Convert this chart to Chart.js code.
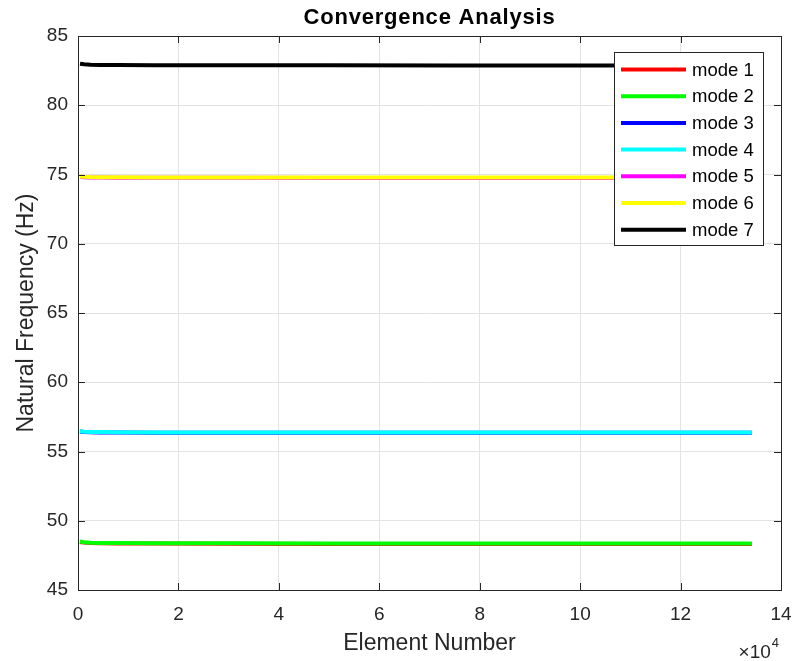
<!DOCTYPE html>
<html>
<head>
<meta charset="utf-8">
<script src="https://cdn.jsdelivr.net/npm/chart.js@4.4.0/dist/chart.umd.min.js"></script>
<style>
html, body { margin: 0; padding: 0; background: #fff; }
#wrap { width: 795px; height: 661px; }
</style>
</head>
<body>
<div id="wrap"><canvas id="convChart"></canvas></div>
<script>
// element counts of the meshes
const elements = [400, 1200, 2500, 4500, 8000, 15000, 30000, 50000, 75000, 100000, 120000, 134200];
// natural frequencies (Hz) per mode
const mode1 = [48.47, 48.42, 48.39, 48.37, 48.36, 48.35, 48.34, 48.33, 48.33, 48.32, 48.32, 48.32];
const mode2 = [48.50, 48.45, 48.42, 48.40, 48.39, 48.38, 48.37, 48.36, 48.36, 48.35, 48.35, 48.35];
const mode3 = [56.44, 56.41, 56.39, 56.38, 56.37, 56.36, 56.36, 56.35, 56.35, 56.35, 56.35, 56.35];
const mode4 = [56.46, 56.43, 56.41, 56.40, 56.39, 56.38, 56.38, 56.37, 56.37, 56.37, 56.37, 56.37];
const mode5 = [74.83, 74.81, 74.79, 74.78, 74.77, 74.76, 74.76, 74.75, 74.75, 74.75, 74.75, 74.75];
const mode6 = [74.86, 74.84, 74.82, 74.81, 74.80, 74.79, 74.79, 74.78, 74.78, 74.78, 74.78, 74.78];
const mode7 = [83.00, 82.96, 82.93, 82.91, 82.90, 82.89, 82.88, 82.88, 82.87, 82.87, 82.87, 82.87];
const modeNames = ['mode 1', 'mode 2', 'mode 3', 'mode 4', 'mode 5', 'mode 6', 'mode 7'];
const modeColors = ['#ff0000', '#00ff00', '#0000ff', '#00ffff', '#ff00ff', '#ffff00', '#000000'];
const xTicks = [0, 2, 4, 6, 8, 10, 12, 14];     // x 10^4
const yTicks = [45, 50, 55, 60, 65, 70, 75, 80, 85];

const modes = [mode1, mode2, mode3, mode4, mode5, mode6, mode7];
const FONT = '"Liberation Sans", Arial, sans-serif';
const INK = '#262626';

// matlab style box with inward ticks on all four sides, title centred on axes, legend inside
const boxPlugin = {
    id: 'box',
    afterDatasetsDraw(chart) {
        const { ctx, chartArea: a, scales: { x, y } } = chart;
        ctx.save();
        ctx.strokeStyle = INK;
        ctx.lineWidth = 1;
        ctx.strokeRect(a.left + 0.5, a.top + 0.5, a.right - a.left, a.bottom - a.top);
        ctx.beginPath();
        xTicks.forEach(t => {
            const px = Math.round(x.getPixelForValue(t * 1e4)) + 0.5;
            ctx.moveTo(px, a.bottom); ctx.lineTo(px, a.bottom - 7);
            ctx.moveTo(px, a.top); ctx.lineTo(px, a.top + 7);
        });
        yTicks.forEach(t => {
            const py = Math.round(y.getPixelForValue(t)) + 0.5;
            ctx.moveTo(a.left, py); ctx.lineTo(a.left + 7, py);
            ctx.moveTo(a.right, py); ctx.lineTo(a.right - 7, py);
        });
        ctx.stroke();
        // exponent label
        ctx.fillStyle = INK;
        ctx.textBaseline = 'alphabetic';
        ctx.textAlign = 'right';
        ctx.font = '13px ' + FONT;
        ctx.fillText('4', a.right - 2, 647);
        const w4 = ctx.measureText('4').width;
        ctx.font = '19px ' + FONT;
        ctx.fillText('\u00d710', a.right - 3 - w4, 658);
        // title
        ctx.fillStyle = '#000';
        ctx.textAlign = 'center';
        ctx.textBaseline = 'middle';
        ctx.font = 'bold 22px ' + FONT;
        ctx.letterSpacing = '0.8px';
        ctx.fillText('Convergence Analysis', (a.left + a.right) / 2, 18);
        ctx.restore();
    },
    afterDraw(chart) {
        const { ctx, chartArea: a } = chart;
        const left = a.right - 167, top = a.top + 16, w = 149, h = 193;
        ctx.save();
        ctx.fillStyle = '#fff';
        ctx.fillRect(left, top, w, h);
        ctx.strokeStyle = INK;
        ctx.lineWidth = 1;
        ctx.strokeRect(left + 0.5, top + 0.5, w, h);
        ctx.font = '18.5px ' + FONT;
        ctx.textBaseline = 'middle';
        ctx.textAlign = 'left';
        chart.data.datasets.forEach((ds, i) => {
            const cy = top + 17.5 + i * 26.7;
            ctx.strokeStyle = ds.borderColor;
            ctx.lineWidth = 4;
            ctx.beginPath();
            ctx.moveTo(left + 7, cy); ctx.lineTo(left + 72, cy);
            ctx.stroke();
            ctx.fillStyle = '#000';
            ctx.fillText(ds.label, left + 78, cy + 1);
        });
        ctx.restore();
    }
};

new Chart(document.getElementById('convChart').getContext('2d'), {
    type: 'line',
    data: {
        datasets: modes.map((m, i) => ({
            label: modeNames[i],
            data: elements.map((e, j) => ({ x: e, y: m[j] })),
            borderColor: modeColors[i],
            backgroundColor: modeColors[i],
            borderWidth: 4,
            pointRadius: 0,
            tension: 0,
            fill: false,
            order: modes.length - i
        }))
    },
    options: {
        responsive: true,
        maintainAspectRatio: false,
        animation: false,
        layout: { padding: { top: 36, right: 14, bottom: 0, left: 0 } },
        plugins: {
            legend: { display: false },
            tooltip: { enabled: false },
            title: { display: false }
        },
        scales: {
            x: {
                type: 'linear',
                min: 0, max: 140000,
                afterBuildTicks: s => { s.ticks = xTicks.map(v => ({ value: v * 1e4 })); },
                afterFit: s => { s.height = 71; s.paddingLeft = 0; s.paddingRight = 0; },
                ticks: {
                    callback: v => String(v / 1e4),
                    color: INK, padding: 13,
                    font: { family: FONT, size: 19 },
                    maxRotation: 0
                },
                grid: { color: '#e3e3e3', drawTicks: false },
                border: { display: false },
                title: {
                    display: true, text: 'Element Number', color: INK,
                    font: { family: FONT, size: 23 },
                    padding: { top: 0, bottom: 4 }
                }
            },
            y: {
                min: 45, max: 85,
                afterBuildTicks: s => { s.ticks = yTicks.map(v => ({ value: v })); },
                afterFit: s => { s.width = 78; s.paddingTop = 0; s.paddingBottom = 0; },
                ticks: {
                    color: INK, padding: 10,
                    font: { family: FONT, size: 19 }
                },
                grid: { color: '#e3e3e3', drawTicks: false },
                border: { display: false },
                title: {
                    display: true, text: 'Natural Frequency (Hz)', color: INK,
                    font: { family: FONT, size: 23 },
                    padding: { top: 13, bottom: 0 }
                }
            }
        }
    },
    plugins: [boxPlugin]
});
</script>
</body>
</html>
